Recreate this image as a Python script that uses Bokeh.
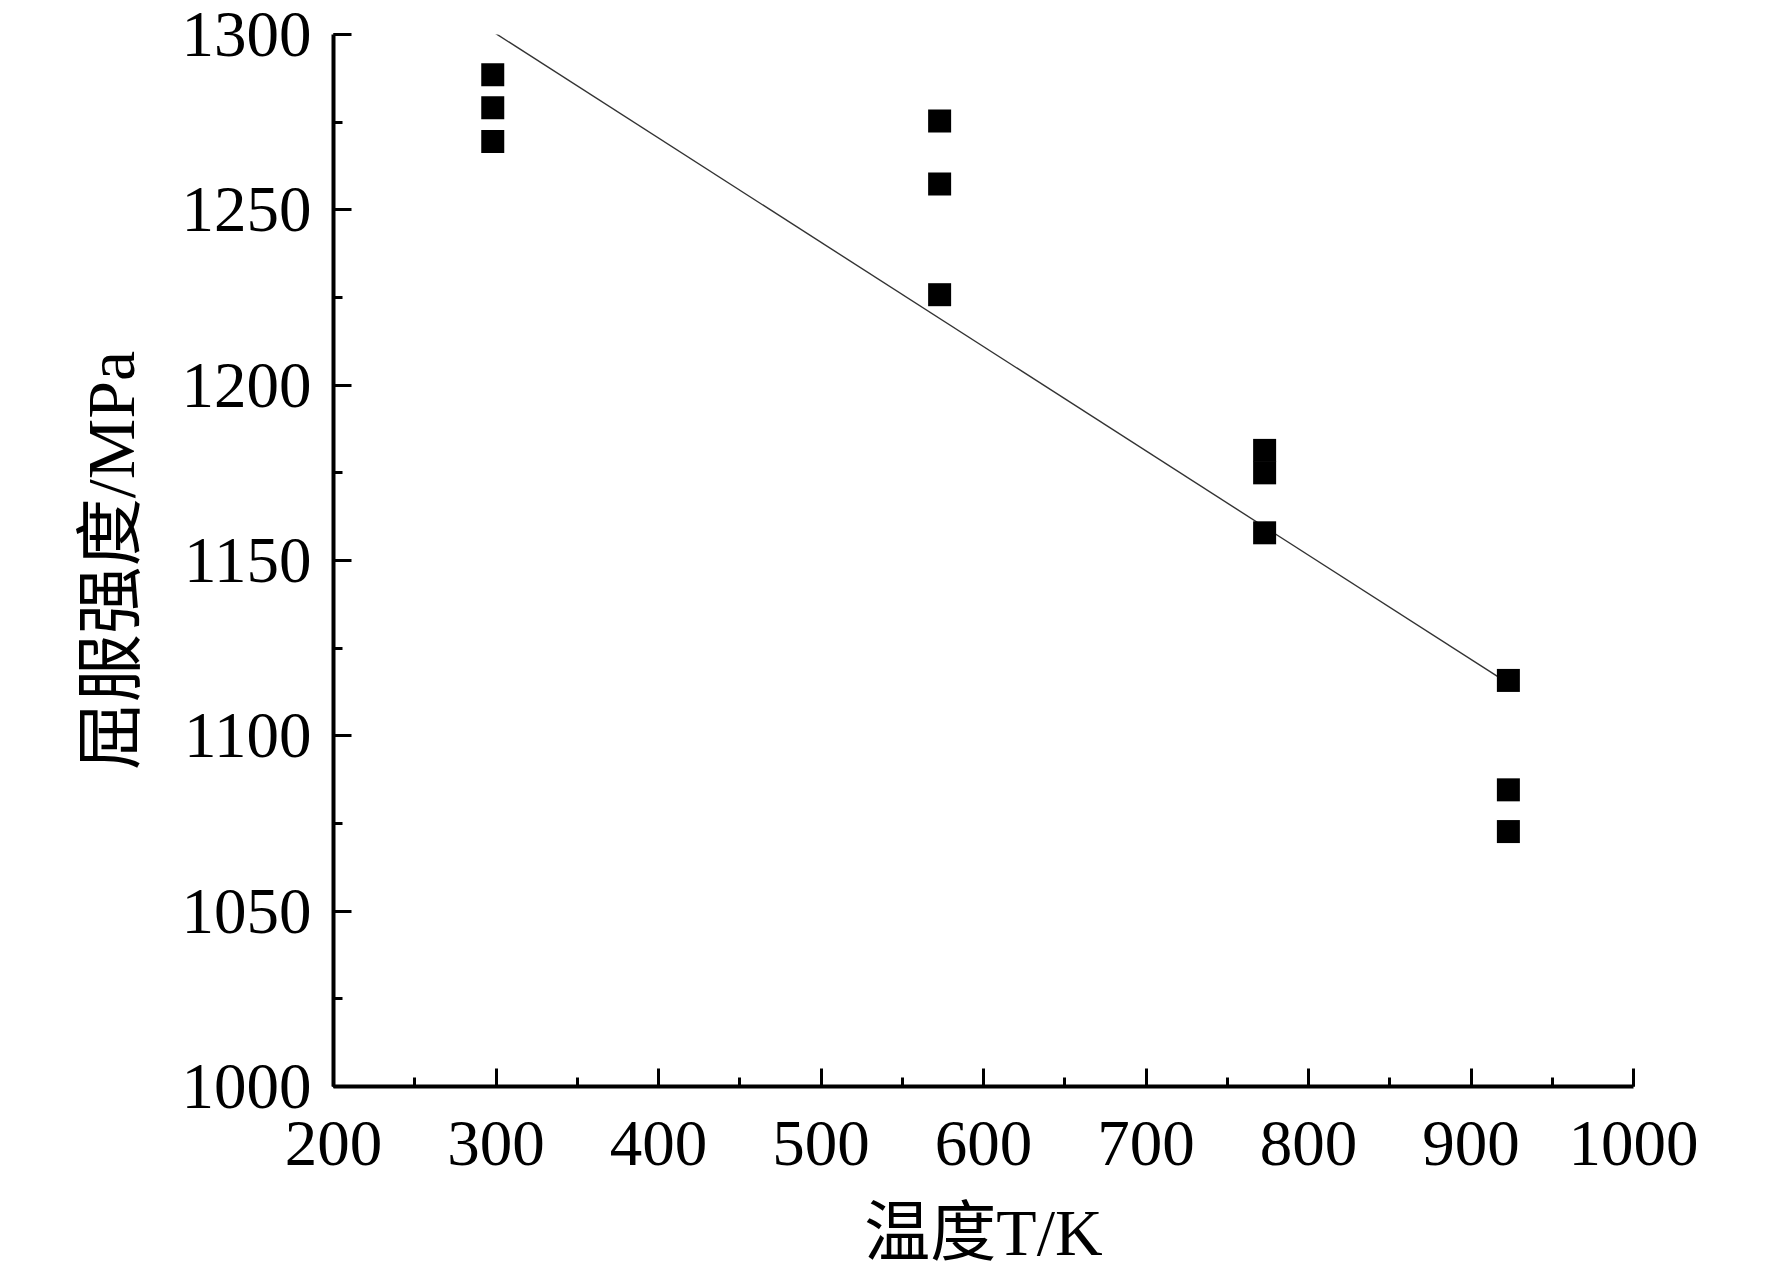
import numpy as np
from bokeh.plotting import figure
from bokeh.models import Range1d, SingleIntervalTicker
from bokeh.embed import file_html
from bokeh.resources import INLINE

# ---- data ----
temperature_K = [298, 298, 298, 573, 573, 573, 773, 773, 773, 923, 923, 923]
yield_MPa = [1288.5, 1279.1, 1269.5, 1275.3, 1257.4, 1225.8,
             1181.4, 1175.0, 1157.9, 1115.8, 1084.6, 1072.7]
x_title = "温度T/K"
y_title = "屈服强度/MPa"

# linear fit of the data
slope, intercept = np.polyfit(temperature_K, yield_MPa, 1)
fit_x = [min(temperature_K), max(temperature_K)]
fit_y = [slope * v + intercept for v in fit_x]

SERIF = "Liberation Serif"
MIXED = "Liberation Serif, Noto Sans CJK SC"

p = figure(width=1756, height=1271, output_backend="svg", toolbar_location=None,
           x_range=Range1d(200, 1000), y_range=Range1d(1000, 1300),
           min_border_left=333, min_border_right=123,
           min_border_top=34, min_border_bottom=140)
p.outline_line_color = None
p.grid.visible = False
p.background_fill_color = "white"
p.border_fill_color = "white"

p.xaxis.ticker = SingleIntervalTicker(interval=100, num_minor_ticks=2)
p.yaxis.ticker = SingleIntervalTicker(interval=50, num_minor_ticks=2)

for ax in (p.xaxis, p.yaxis):
    ax.axis_line_width = 4
    ax.axis_line_color = "black"
    ax.major_tick_line_width = 3
    ax.minor_tick_line_width = 3
    ax.major_tick_line_color = "black"
    ax.minor_tick_line_color = "black"
    ax.major_tick_in = 18
    ax.major_tick_out = 0
    ax.minor_tick_in = 9
    ax.minor_tick_out = 0
    ax.major_label_text_font = SERIF
    ax.major_label_text_font_size = "65px"
    ax.major_label_text_color = "black"
    ax.axis_label_text_font = MIXED
    ax.axis_label_text_font_style = "normal"
    ax.axis_label_text_color = "black"
p.xaxis.axis_label_text_font_size = "66px"
p.yaxis.axis_label_text_font_size = "68px"
p.yaxis.major_label_standoff = 22
p.xaxis.major_label_standoff = 35
p.xaxis.axis_label = x_title
p.yaxis.axis_label = y_title
p.xaxis.axis_label_standoff = 28
p.yaxis.axis_label_standoff = 30

p.line(fit_x, fit_y, line_color="#333333", line_width=1.4)
p.scatter(temperature_K, yield_MPa, marker="square", size=23,
          fill_color="black", line_color=None)

open("out.html", "w").write(file_html(p, INLINE))
